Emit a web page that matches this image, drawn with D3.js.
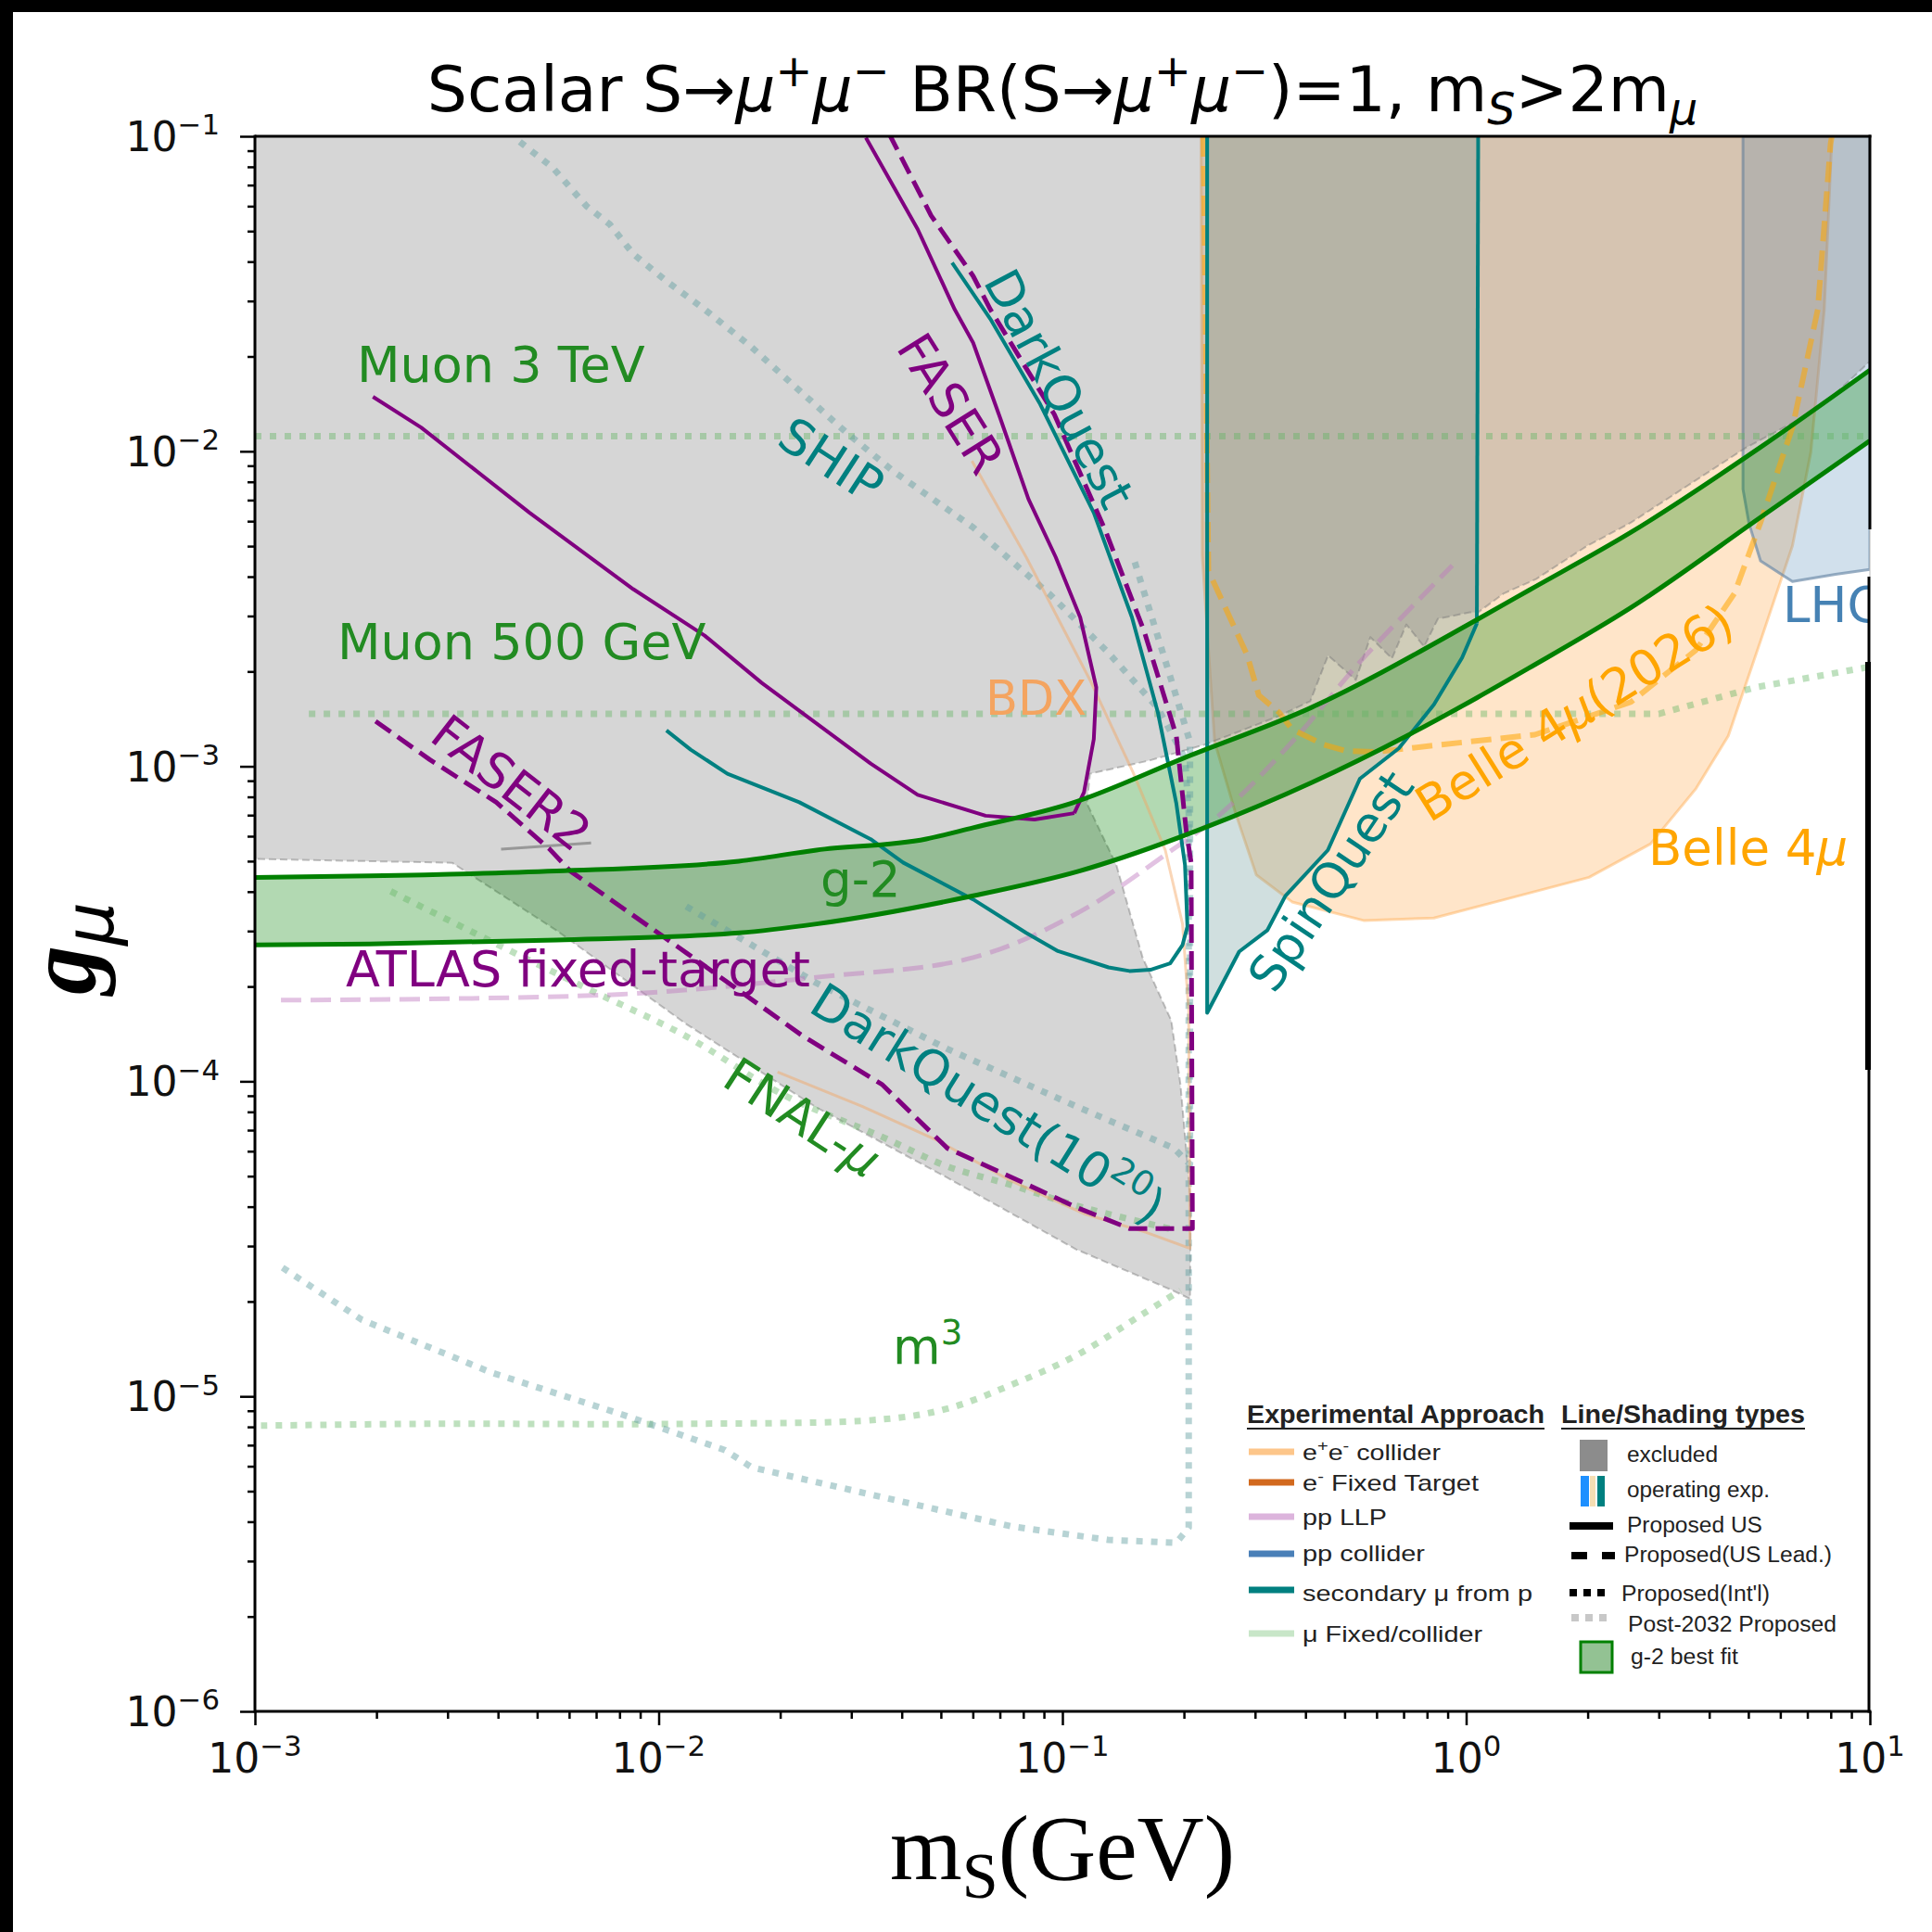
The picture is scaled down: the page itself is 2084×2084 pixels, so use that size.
<!DOCTYPE html>
<html>
<head>
<meta charset="utf-8">
<script src="https://cdn.jsdelivr.net/npm/d3@7"></script>
<style>
  body { margin: 0; background: #fff; }
</style>
</head>
<body>
<svg id="chart" width="2084" height="2084"></svg>
<script>
// all curves are [mass in GeV, coupling g_mu]

const excludedRegion = [[1e-3,0.1],[10,0.1],[10,1.93e-2],[7.7,1.41e-2],[6.43,1.23e-2],[4.95,1.03e-2],[3.71,8.1e-3],
  [2.56,5.94e-3],[1.99,5.0e-3],[1.49,3.93e-3],[1.24,3.54e-3],[1.07,3.08e-3],[1.021,3.08e-3],[0.851,2.94e-3],
  [0.787,2.40e-3],[0.711,2.82e-3],[0.655,2.20e-3],[0.579,2.57e-3],[0.533,1.88e-3],[0.455,2.25e-3],[0.411,1.61e-3],
  [0.342,1.44e-3],[0.257,1.25e-3],[0.224,1.17e-3],[0.165,1.045e-3],[0.117,9.47e-4],[0.115,7.62e-4],[0.136,4.86e-4],
  [0.158,2.47e-4],[0.186,1.56e-4],[0.196,9.79e-5],[0.208,4.12e-5],[0.207,2.04e-5],[0.189,2.16e-5],[0.108,2.93e-5],
  [5.19e-2,4.94e-5],[2.46e-2,8.26e-5],[1.17e-2,1.52e-4],[5.59e-3,3.01e-4],[3.08e-3,4.94e-4],[1e-3,5.08e-4]];

const g2Upper = [[1e-3,4.44e-4],[1.92e-3,4.49e-4],[5.59e-3,4.65e-4],[1.58e-2,5.0e-4],[2.46e-2,5.42e-4],[4.6e-2,5.88e-4],
  [6.01e-2,6.38e-4],[0.1054,7.64e-4],[0.2026,1.07e-3],[0.415,1.54e-3],[1.063,2.92e-3],[1.43,3.62e-3],[2.56,5.53e-3],
  [5.36,1.03e-2],[10,1.81e-2]];
const g2Lower = [[1e-3,2.71e-4],[1.92e-3,2.73e-4],[5.59e-3,2.81e-4],[1.58e-2,2.96e-4],[2.46e-2,3.16e-4],[6.01e-2,3.88e-4],
  [0.110,4.65e-4],[0.224,6.37e-4],[0.415,8.89e-4],[0.713,1.25e-3],[1.063,1.65e-3],[1.43,2.05e-3],[2.56,3.19e-3],
  [5.36,6.17e-3],[10,1.08e-2]];

const muon3TeVLine = [[1.96e-3,1.49e-2],[2.58e-3,1.19e-2],[4.79e-3,6.38e-3],[8.65e-3,3.65e-3],[1.30e-2,2.60e-3],
  [1.80e-2,1.84e-3],[3.35e-2,1.02e-3],[4.38e-2,8.12e-4],[6.45e-2,6.97e-4],[8.53e-2,6.78e-4],[0.107,7.1e-4]];
const faserLine = [[3.26e-2,0.099],[4.38e-2,5.07e-2],[5.41e-2,2.82e-2],[6.01e-2,2.21e-2],[7.02e-2,1.27e-2],
  [8.24e-2,7.05e-3],[9.62e-2,4.62e-3],[0.1107,2.97e-3],[0.1213,1.78e-3],[0.1196,1.22e-3],[0.1131,8.27e-4],[0.107,7.1e-4]];
const faser2Line = [[1.99e-3,1.39e-3],[2.71e-3,1.05e-3],[3.96e-3,7.69e-4],[5.36e-3,5.47e-4],[6.04e-3,4.65e-4],
  [1.18e-2,2.54e-4],[2.28e-2,1.39e-4],[3.57e-2,9.79e-5],[5.19e-2,6.13e-5],[7.53e-2,4.94e-5],[0.1084,3.98e-5],
  [0.1466,3.41e-5],[0.2099,3.41e-5],[0.2084,4.94e-4],[0.2026,6.25e-4],[0.1915,1.25e-3],[0.1596,2.67e-3],
  [0.1283,5.53e-3],[9.55e-2,1.31e-2],[6.63e-2,2.82e-2],[6.01e-2,3.6e-2],[4.73e-2,5.6e-2],[3.75e-2,0.1]];
const darkQuestLine = [[5.33e-2,3.97e-2],[6.63e-2,2.63e-2],[8.81e-2,1.41e-2],[0.1196,6.38e-3],[0.1487,2.97e-3],
  [0.1724,1.48e-3],[0.1915,7.62e-4],[0.2012,4.86e-4],[0.204,3.10e-4],[0.1984,2.71e-4],[0.1849,2.37e-4],
  [0.1652,2.26e-4],[0.1466,2.24e-4],[0.1301,2.30e-4],[9.75e-2,2.59e-4],[8.13e-2,2.96e-4],[6.01e-2,3.78e-4],
  [4.03e-2,4.95e-4],[3.35e-2,5.87e-4],[2.23e-2,7.69e-4],[1.48e-2,9.47e-4],[1.20e-2,1.13e-3],[1.045e-2,1.30e-3]];
const spinQuestRegion = [[0.2283,0.1],[0.2283,1.65e-4],[0.274,2.58e-4],[0.322,3.02e-4],[0.3567,3.88e-4],
  [0.4545,5.42e-4],[0.5455,9.13e-4],[0.681,1.14e-3],[0.832,1.57e-3],[0.977,2.21e-3],[1.063,2.84e-3],[1.071,0.1]];
const belle4muRegion = [[0.2205,0.1],[0.222,4.66e-3],[0.2382,1.196e-3],[0.2684,7.1e-4],[0.3022,4.52e-4],
  [0.3707,3.71e-4],[0.5572,3.24e-4],[0.832,3.30e-4],[1.25,3.78e-4],[2.015,4.44e-4],[2.86,5.67e-4],[3.71,8.5e-4],
  [4.46,1.25e-3],[5.36,2.50e-3],[6.43,5.01e-3],[7.14,9.93e-3],[7.71,2.82e-2],[7.99,7.94e-2],[8.05,0.1]];
const belle2026Line = [[0.2236,0.1],[0.2299,4.18e-3],[0.2869,2.25e-3],[0.3066,1.68e-3],[0.3446,1.48e-3],
  [0.3707,1.31e-3],[0.4449,1.17e-3],[0.5014,1.12e-3],[0.5958,1.11e-3],[0.859,1.17e-3],[1.48,1.26e-3],
  [2.56,1.60e-3],[3.71,2.34e-3],[4.62,3.54e-3],[5.36,5.95e-3],[6.43,1.19e-2],[7.43,2.82e-2],[7.99,9.44e-2],[8.05,0.1]];
const lhcRegion = [[4.85,0.1],[4.85,7.58e-3],[5.02,5.89e-3],[5.36,4.49e-3],[6.43,3.86e-3],[8.22,4.07e-3],
  [10,4.22e-3],[10,0.1]];
const atlasLine = [[1.16e-3,1.81e-4],[8.11e-3,1.89e-4],[2.46e-2,2.14e-4],[6.01e-2,2.47e-4],[0.1103,3.45e-4],
  [0.1829,5.32e-4],[0.2479,7.1e-4],[0.3707,1.196e-3],[0.5572,2.21e-3],[0.9239,4.34e-3]];
const bdxLine = [[5.97e-2,9.32e-3],[8.13e-2,4.62e-3],[0.117,1.88e-3],[0.1497,9.55e-4],[0.1798,5.42e-4],
  [0.1984,3.16e-4],[0.2055,1.68e-4],[0.207,2.95e-5],[0.1607,3.32e-5],[0.1131,3.80e-5],[7.41e-2,4.85e-5],
  [4.87e-2,6.52e-5],[3.20e-2,8.32e-5],[1.97e-2,1.07e-4]];
const shipLine = [[4.53e-3,9.6e-2],[5.47e-3,7.94e-2],[6.62e-3,6.01e-2],[7.57e-3,5.25e-2],[8.65e-3,4.23e-2],
  [1.045e-2,3.47e-2],[1.30e-2,2.82e-2],[1.70e-2,2.14e-2],[2.23e-2,1.56e-2],[2.91e-2,1.15e-2],[3.80e-2,8.67e-3],
  [6.01e-2,5.73e-3],[9.36e-2,3.49e-3],[0.1301,2.29e-3],[0.1724,1.53e-3],[0.2012,1.06e-3],[0.2055,7.1e-4],
  [0.2055,3.83e-6],[0.1915,3.43e-6],[0.1301,3.50e-6],[7.53e-2,3.86e-6],[3.57e-2,4.79e-6],[1.70e-2,5.95e-6],
  [1.46e-2,6.75e-6],[8.11e-3,8.76e-6],[3.85e-3,1.19e-5],[1.84e-3,1.75e-5],[1.16e-3,2.58e-5]];
const darkQuest1e20Line = [[1.17e-2,3.59e-4],[2.46e-2,2.05e-4],[5.17e-2,1.27e-4],[0.1084,8.32e-5],[0.189,6.13e-5],
  [0.207,5.45e-5],[0.207,1.196e-3],[0.186,1.88e-3],[0.1497,4.62e-3]];
const fnalMuLine = [[2.17e-3,4.01e-4],[3.85e-3,2.78e-4],[6.71e-3,1.96e-4],[1.17e-2,1.39e-4],[2.05e-2,9.02e-5],
  [3.57e-2,6.67e-5],[5.17e-2,5.38e-5],[7.50e-2,4.68e-5],[0.1084,4.03e-5],[0.189,3.38e-5]];
const m3Line = [[1.035e-3,8.07e-6],[2.66e-3,8.18e-6],[1.17e-2,8.18e-6],[3.57e-2,8.45e-6],[5.17e-2,9.13e-6],
  [7.50e-2,1.09e-5],[0.1084,1.35e-5],[0.1575,1.82e-5],[0.196,2.17e-5]];
const muon3TeVReach = [[1e-3,1.116e-2],[10,1.116e-2]];
const muon500Reach = [[1.36e-3,1.467e-3],[3.0,1.467e-3],[5.2,1.78e-3],[10,2.07e-3]];
const greyStub = [[4.07e-3,5.46e-4],[6.8e-3,5.71e-4]];

const xTickExp = [-3,-2,-1,0,1];
const yTickExp = [-6,-5,-4,-3,-2,-1];

const svg = d3.select("#chart");
svg.append("rect").attr("width",2084).attr("height",2084).attr("fill","#fff");
svg.append("rect").attr("width",2084).attr("height",13).attr("fill","#000");
svg.append("rect").attr("width",14).attr("height",2084).attr("fill","#000");

const L = 275, R = 2017, T = 147, B = 1846;
const x = d3.scaleLog().domain([1e-3,10]).range([L,R]);
const y = d3.scaleLog().domain([1e-6,1e-1]).range([B,T]);

svg.append("defs").append("clipPath").attr("id","clip")
  .append("rect").attr("x",L).attr("y",T).attr("width",R-L).attr("height",B-T);
const plot = svg.append("g").attr("clip-path","url(#clip)");

const line = d3.line().x(d => x(d[0])).y(d => y(d[1]));
const smooth = d3.line().x(d => x(d[0])).y(d => y(d[1])).curve(d3.curveCatmullRom.alpha(0.5));
const mono = d3.line().x(d => x(d[0])).y(d => y(d[1])).curve(d3.curveMonotoneX);

function path(gen, data, o) {
  return plot.append("path").attr("d", gen(data) + (o.close ? "Z" : ""))
    .attr("fill", o.fill || "none").attr("stroke", o.stroke || "none")
    .attr("stroke-width", o.w || 0).attr("stroke-dasharray", o.dash || null)
    .attr("stroke-linejoin","round");
}

// shaded regions
path(line, belle4muRegion, {close:true, fill:"rgba(255,190,120,0.4)", stroke:"rgba(255,170,80,0.45)", w:3});
path(line, spinQuestRegion, {close:true, fill:"rgba(100,150,150,0.3)"});
path(line, lhcRegion, {close:true, fill:"rgba(70,130,180,0.25)", stroke:"rgba(110,140,170,0.7)", w:3});
path(line, excludedRegion, {close:true, fill:"rgba(128,128,128,0.32)", stroke:"rgba(120,120,120,0.45)", w:2, dash:"8,4"});
path(line, greyStub, {stroke:"rgba(110,110,110,0.6)", w:3});

// g-2 band
const band = mono(g2Upper) + "L" + mono(g2Lower.slice().reverse()).slice(1) + "Z";
plot.append("path").attr("d", band).attr("fill","rgba(0,128,0,0.3)");

// dotted projections
const gDot = {stroke:"rgba(100,180,100,0.42)", w:7, dash:"7,9"};
const tDot = {stroke:"rgba(95,158,160,0.45)", w:7, dash:"7,9"};
path(line, muon3TeVReach, gDot);
path(line, muon500Reach, gDot);
path(smooth, fnalMuLine, gDot);
path(smooth, m3Line, gDot);
path(line, shipLine, tDot);
path(line, darkQuest1e20Line, tDot);

path(line, bdxLine, {stroke:"rgba(244,164,96,0.45)", w:3});
path(smooth, atlasLine, {stroke:"rgba(190,120,190,0.45)", w:5, dash:"22,10"});
path(line, belle2026Line, {stroke:"rgba(255,165,0,0.55)", w:6, dash:"22,10"});

path(line, spinQuestRegion.slice(0, -1), {stroke:"#008080", w:4});
path(line, [spinQuestRegion[spinQuestRegion.length-2], spinQuestRegion[spinQuestRegion.length-1]], {stroke:"#008080", w:4});
path(line, darkQuestLine, {stroke:"#008080", w:4});
path(line, muon3TeVLine, {stroke:"#800080", w:4});
path(line, faserLine, {stroke:"#800080", w:4});
path(line, faser2Line, {stroke:"#800080", w:5, dash:"20,9"});

path(mono, g2Upper, {stroke:"#008000", w:5});
path(mono, g2Lower, {stroke:"#008000", w:5});

// rich text helper: segments with italic / sup / sub
function rich(t, segs, fs) {
  let off = 0;
  segs.forEach(s => {
    const target = s.sup ? -0.4 * fs : s.sub ? 0.2 * fs : 0;
    const ts = t.append("tspan").text(s.t);
    if (target - off !== 0) ts.attr("dy", target - off);
    off = target;
    if (s.sup || s.sub) ts.attr("font-size", 0.7 * fs);
    if (s.it) ts.attr("font-style", "italic");
  });
  return t;
}

const labels = [
  {segs:[{t:"Muon 3 TeV"}], x:385, y:412, c:"#228b22", s:54},
  {segs:[{t:"Muon 500 GeV"}], x:364, y:711, c:"#228b22", s:54},
  {segs:[{t:"SHIP"}], x:897, y:496, r:33, c:"#008080", s:53},
  {segs:[{t:"FASER"}], x:1026, y:435, r:58, c:"#800080", s:53},
  {segs:[{t:"DarkQuest"}], x:1143, y:419, r:62, c:"#008080", s:53},
  {segs:[{t:"FASER2"}], x:552, y:844, r:38, c:"#800080", s:53},
  {segs:[{t:"g-2"}], x:885, y:967, c:"#228b22", s:53},
  {segs:[{t:"ATLAS fixed-target"}], x:373, y:1064, c:"#800080", s:54},
  {segs:[{t:"DarkQuest(10"},{t:"20",sup:true},{t:")"}], x:1066, y:1190, r:32, c:"#008080", s:53},
  {segs:[{t:"FNAL-"},{t:"μ",it:true}], x:866, y:1205, r:33, c:"#228b22", s:53},
  {segs:[{t:"BDX"}], x:1063, y:771, c:"#f4a460", s:51},
  {segs:[{t:"m"},{t:"3",sup:true}], x:963, y:1471, c:"#228b22", s:53},
  {segs:[{t:"SpinQuest"}], x:1435, y:950, r:-56, c:"#008080", s:53},
  {segs:[{t:"Belle 4"},{t:"μ",it:true},{t:"(2026)"}], x:1698, y:768, r:-32, c:"#ffa500", s:53},
  {segs:[{t:"Belle 4"},{t:"μ",it:true}], x:1778, y:933, c:"#ffa500", s:53},
  {segs:[{t:"LHC"}], x:1923, y:671, c:"#4682b4", s:53}
];
labels.forEach(d => {
  let t;
  if (d.r !== undefined) {
    t = plot.append("text").attr("transform", `translate(${d.x},${d.y}) rotate(${d.r})`)
      .attr("x", 0).attr("y", 0.36 * d.s).attr("text-anchor", "middle");
  } else {
    t = plot.append("text").attr("x", d.x).attr("y", d.y);
  }
  t.attr("fill", d.c).attr("font-size", d.s).attr("font-family", "DejaVu Sans");
  rich(t, d.segs, d.s);
});

// axes
const isMajor = v => Math.abs(Math.log10(v) - Math.round(Math.log10(v))) < 1e-6;
const yMajor = yTickExp.map(e => Math.pow(10, e));
const xMajor = xTickExp.map(e => Math.pow(10, e));
const yMinor = y.ticks().filter(v => !isMajor(v));
const xMinor = x.ticks().filter(v => !isMajor(v));

function styleAxis(g) {
  g.select(".domain").remove();
  g.selectAll(".tick line").attr("stroke", "#000").attr("stroke-width", 2.5);
}
svg.append("g").attr("transform", `translate(${L},0)`)
  .call(d3.axisLeft(y).tickValues(yMajor).tickSize(16).tickFormat("")).call(styleAxis);
svg.append("g").attr("transform", `translate(${L},0)`)
  .call(d3.axisLeft(y).tickValues(yMinor).tickSize(8).tickFormat("")).call(styleAxis);
svg.append("g").attr("transform", `translate(0,${B})`)
  .call(d3.axisBottom(x).tickValues(xMajor).tickSize(15).tickFormat("")).call(styleAxis);
svg.append("g").attr("transform", `translate(0,${B})`)
  .call(d3.axisBottom(x).tickValues(xMinor).tickSize(8).tickFormat("")).call(styleAxis);

// spines
const spine = (x1, y1, x2, y2, w, c) => svg.append("line").attr("x1",x1).attr("y1",y1).attr("x2",x2).attr("y2",y2)
  .attr("stroke", c || "#000").attr("stroke-width", w);
spine(L, T, R + 1.5, T, 3);
spine(L, B, R + 1.5, B, 3);
spine(L, T - 1.5, L, B + 1.5, 3);
spine(R, T - 1.5, R, 571, 3);
spine(R, 571, R, 622, 1, "#bbb");
spine(R - 1, 622, R - 1, B + 1.5, 3);
spine(R - 2, 714, R - 2, 1154, 6);

// tick labels
yTickExp.forEach(e => {
  const t = svg.append("text").attr("x", 237).attr("y", y(Math.pow(10, e)) + 16)
    .attr("text-anchor", "end").attr("font-family", "DejaVu Sans").attr("font-size", 44).attr("fill", "#111");
  rich(t, [{t:"10"},{t:"−" + Math.abs(e), sup:true}], 44);
});
xTickExp.forEach(e => {
  const t = svg.append("text").attr("x", x(Math.pow(10, e))).attr("y", 1912)
    .attr("text-anchor", "middle").attr("font-family", "DejaVu Sans").attr("font-size", 44).attr("fill", "#111");
  rich(t, [{t:"10"},{t:(e < 0 ? "−" : "") + Math.abs(e), sup:true}], 44);
});

// title
const title = svg.append("text").attr("x", (L + R) / 2).attr("y", 120).attr("text-anchor", "middle")
  .attr("font-family", "DejaVu Sans").attr("font-size", 68).attr("fill", "#000");
rich(title, [{t:"Scalar S→"},{t:"μ",it:true},{t:"+",sup:true},{t:"μ",it:true},{t:"−",sup:true},
  {t:" BR(S→"},{t:"μ",it:true},{t:"+",sup:true},{t:"μ",it:true},{t:"−",sup:true},{t:")=1, m"},
  {t:"S",sub:true,it:true},{t:">2m"},{t:"μ",sub:true,it:true}], 68);

// axis titles
const xl = svg.append("text").attr("x", (L + R) / 2).attr("y", 2027).attr("text-anchor", "middle")
  .attr("font-family", "Liberation Serif").attr("font-size", 100).attr("fill", "#000");
rich(xl, [{t:"m"},{t:"S",sub:true},{t:"(GeV)"}], 100);
const yl = svg.append("text").attr("transform", "translate(102,1023) rotate(-90)").attr("text-anchor", "middle")
  .attr("font-family", "Liberation Serif").attr("font-size", 106).attr("fill", "#000");
yl.append("tspan").text("g").attr("font-style", "italic").attr("font-weight", "bold");
yl.append("tspan").text("μ").attr("font-style", "italic").attr("font-size", 74).attr("dy", 20)
  .attr("font-family", "DejaVu Sans");

// legend
const approach = [
  {segs:[{t:"e"},{t:"+",sup:true},{t:"e"},{t:"-",sup:true},{t:" collider"}], color:"#fdc68a", ly:1566, ty:1575, len:149},
  {segs:[{t:"e"},{t:"-",sup:true},{t:" Fixed Target"}], color:"#d2691e", ly:1599, ty:1608, len:190},
  {segs:[{t:"pp LLP"}], color:"#dcb4dc", ly:1636, ty:1645, len:91},
  {segs:[{t:"pp collider"}], color:"#4a80b8", ly:1676, ty:1684, len:132},
  {segs:[{t:"secondary μ from p"}], color:"#008080", ly:1715, ty:1727, len:248},
  {segs:[{t:"μ Fixed/collider"}], color:"#c8e6c8", ly:1762, ty:1771, len:194}
];
const types = [
  {name:"excluded", tx:1755, ty:1577, len:98},
  {name:"operating exp.", tx:1755, ty:1615, len:154},
  {name:"Proposed US", tx:1755, ty:1653, len:146},
  {name:"Proposed(US Lead.)", tx:1752, ty:1685, len:224},
  {name:"Proposed(Int'l)", tx:1749, ty:1727, len:160},
  {name:"Post-2032 Proposed", tx:1756, ty:1760, len:225},
  {name:"g-2 best fit", tx:1759, ty:1795, len:116}
];
const leg = svg.append("g").attr("font-family", "Liberation Sans").attr("fill", "#222");
[["Experimental Approach", 1345, 321], ["Line/Shading types", 1684, 263]].forEach(h => {
  leg.append("text").attr("x", h[1]).attr("y", 1535).attr("font-size", 28).attr("font-weight", "bold")
    .attr("textLength", h[2]).attr("lengthAdjust", "spacingAndGlyphs").text(h[0]);
  leg.append("line").attr("x1", h[1]).attr("x2", h[1] + h[2]).attr("y1", 1541).attr("y2", 1541)
    .attr("stroke", "#222").attr("stroke-width", 2);
});
approach.forEach(d => {
  leg.append("line").attr("x1", 1347).attr("x2", 1396).attr("y1", d.ly).attr("y2", d.ly)
    .attr("stroke", d.color).attr("stroke-width", 7);
  const t = leg.append("text").attr("x", 1405).attr("y", d.ty).attr("font-size", 24)
    .attr("textLength", d.len).attr("lengthAdjust", "spacingAndGlyphs");
  rich(t, d.segs, 24);
});
types.forEach(d => {
  leg.append("text").attr("x", d.tx).attr("y", d.ty).attr("font-size", 23.5)
    .attr("textLength", d.len).attr("lengthAdjust", "spacingAndGlyphs").text(d.name);
});
leg.append("rect").attr("x", 1704).attr("y", 1553).attr("width", 30).attr("height", 34).attr("fill", "#8c8c8c");
[["#1e90ff", 1705, 9], ["#f5deb3", 1715, 6], ["#008080", 1723, 8]].forEach(b =>
  leg.append("rect").attr("x", b[1]).attr("y", 1592).attr("width", b[2]).attr("height", 33).attr("fill", b[0]));
leg.append("line").attr("x1", 1693).attr("x2", 1740).attr("y1", 1646).attr("y2", 1646).attr("stroke", "#000").attr("stroke-width", 8);
leg.append("line").attr("x1", 1695).attr("x2", 1742).attr("y1", 1678).attr("y2", 1678).attr("stroke", "#000")
  .attr("stroke-width", 8).attr("stroke-dasharray", "17,16");
leg.append("line").attr("x1", 1693).attr("x2", 1736).attr("y1", 1718).attr("y2", 1718).attr("stroke", "#000")
  .attr("stroke-width", 8).attr("stroke-dasharray", "8,7");
leg.append("line").attr("x1", 1695).attr("x2", 1738).attr("y1", 1745).attr("y2", 1745).attr("stroke", "#c8c8c8")
  .attr("stroke-width", 8).attr("stroke-dasharray", "8,7");
leg.append("rect").attr("x", 1705).attr("y", 1771).attr("width", 34).attr("height", 33)
  .attr("fill", "#93c293").attr("stroke", "#008000").attr("stroke-width", 3);
</script>
</body>
</html>
